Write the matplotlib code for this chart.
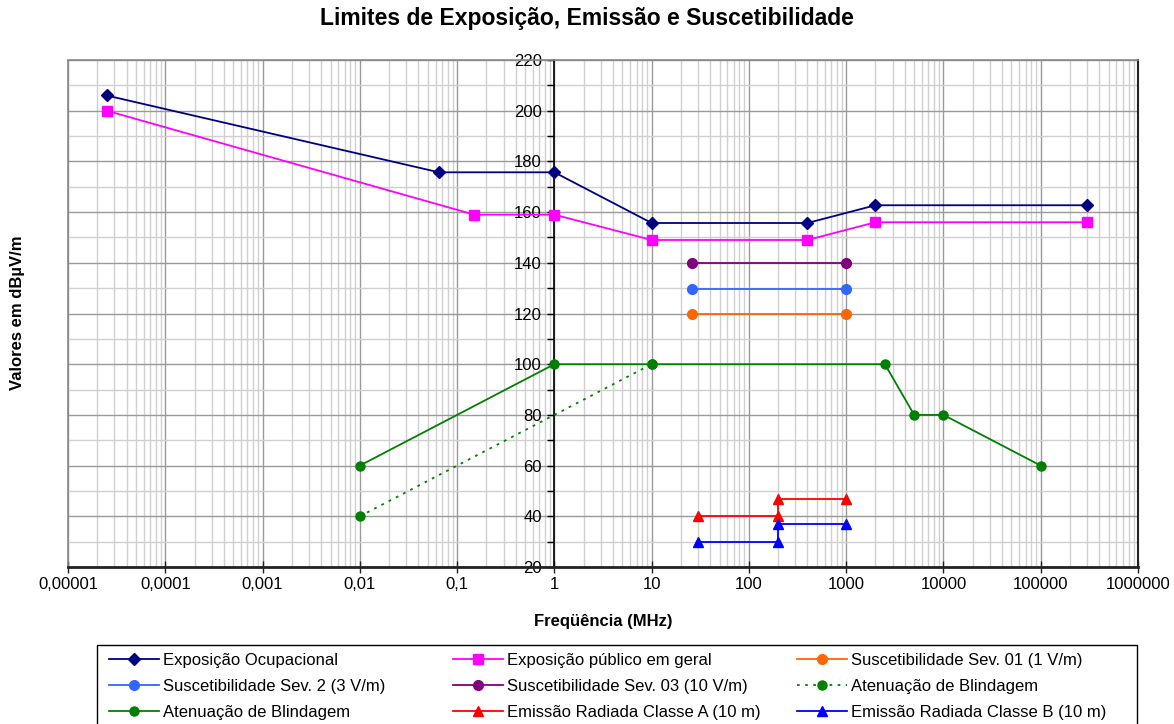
import matplotlib
matplotlib.use("Agg")
import matplotlib.pyplot as plt
from matplotlib.ticker import FixedLocator, FixedFormatter, LogLocator, MultipleLocator, NullFormatter
from matplotlib.patches import Rectangle

plt.rcParams['font.family'] = ['Liberation Sans', 'DejaVu Sans']

# ---- data ----
ocup_x = [2.5e-5, 0.065, 1, 10, 400, 2000, 300000]
ocup_y = [206, 175.7, 175.7, 155.7, 155.7, 162.7, 162.7]

pub_x = [2.5e-5, 0.15, 1, 10, 400, 2000, 300000]
pub_y = [200, 159, 159, 149, 149, 156, 156]

sev_x = [26, 1000]
sev01_y = [120, 120]
sev2_y = [129.5, 129.5]
sev03_y = [140, 140]

aten_dot_x = [0.01, 10]
aten_dot_y = [40, 100]

aten_x = [0.01, 1, 10, 2500, 5000, 10000, 100000]
aten_y = [60, 100, 100, 100, 80, 80, 60]

emA_x = [30, 200, 200, 1000]
emA_y = [40, 40, 47, 47]
emB_x = [30, 200, 200, 1000]
emB_y = [30, 30, 37, 37]

xtick_vals = [1e-5, 1e-4, 1e-3, 1e-2, 1e-1, 1, 10, 100, 1000, 10000, 100000, 1000000]
xtick_labels = ['0,00001', '0,0001', '0,001', '0,01', '0,1', '1', '10', '100',
                '1000', '10000', '100000', '1000000']
ytick_vals = list(range(20, 221, 20))

title = 'Limites de Exposição, Emissão e Suscetibilidade'
xlabel = 'Freqüência (MHz)'
ylabel = 'Valores em dBµV/m'

# ---- figure ----
W, H = 1174, 724
fig = plt.figure(figsize=(W/100, H/100), dpi=100)
ax = fig.add_axes([68/W, 1-567/H, (1138-68)/W, (567-60)/H])

ax.set_xscale('log')
ax.set_xlim(1e-5, 1e6)
ax.set_ylim(20, 220)

lw = 1.3
h_ocup, = ax.plot(ocup_x, ocup_y, color='#000080', marker='D', ms=6, lw=lw, label='Exposição Ocupacional', zorder=5)
h_pub, = ax.plot(pub_x, pub_y, color='#FF00FF', marker='s', ms=7.5, lw=lw, label='Exposição público em geral', zorder=5)
h_s01, = ax.plot(sev_x, sev01_y, color='#FF6600', marker='o', ms=7, lw=lw, label='Suscetibilidade Sev. 01 (1 V/m)', zorder=5)
h_s2, = ax.plot(sev_x, sev2_y, color='#3366FF', marker='o', ms=7, lw=lw, label='Suscetibilidade Sev. 2 (3 V/m)', zorder=5)
h_s03, = ax.plot(sev_x, sev03_y, color='#800080', marker='o', ms=7, lw=lw, label='Suscetibilidade Sev. 03 (10 V/m)', zorder=5)
h_adot, = ax.plot(aten_dot_x, aten_dot_y, color='#008000', marker='o', ms=6.5, lw=lw,
                  linestyle=(0, (1.5, 3)), label='Atenuação de Blindagem', zorder=5)
h_a, = ax.plot(aten_x, aten_y, color='#008000', marker='o', ms=6.5, lw=lw, label='Atenuação de Blindagem', zorder=5)
h_eA, = ax.plot(emA_x, emA_y, color='#FF0000', marker='^', ms=7.5, lw=lw, label='Emissão Radiada Classe A (10 m)', zorder=5)
h_eB, = ax.plot(emB_x, emB_y, color='#0000FF', marker='^', ms=7.5, lw=lw, label='Emissão Radiada Classe B (10 m)', zorder=5)

# grid
ax.xaxis.set_major_locator(FixedLocator(xtick_vals))
ax.xaxis.set_major_formatter(FixedFormatter(xtick_labels))
ax.xaxis.set_minor_locator(LogLocator(base=10, subs=range(2, 10), numticks=50))
ax.xaxis.set_minor_formatter(NullFormatter())
ax.yaxis.set_major_locator(FixedLocator(ytick_vals))
ax.yaxis.set_minor_locator(MultipleLocator(10))
ax.grid(which='major', color='#999999', lw=1.0, zorder=0)
ax.grid(which='minor', color='#D0D0D0', lw=1.0, zorder=0)
ax.set_axisbelow(True)

# spines
ax.spines['left'].set_position(('data', 1))
ax.spines['left'].set_color('black')
ax.spines['left'].set_linewidth(1.2)
ax.spines['bottom'].set_color('#222222')
ax.spines['bottom'].set_linewidth(2)
ax.spines['right'].set_color('#222222')
ax.spines['right'].set_linewidth(1.5)
ax.spines['top'].set_color('#888888')
ax.spines['top'].set_linewidth(1.2)
ax.add_patch(Rectangle((0, 0), 0, 1, transform=ax.transAxes, fill=False,
                       edgecolor='#888888', lw=1.2, clip_on=False, zorder=1))

ax.tick_params(axis='x', which='major', direction='inout', length=8, width=1, labelsize=12, pad=3,
               colors='#222222', labelcolor='black')
ax.tick_params(axis='x', which='minor', length=0)
ax.tick_params(axis='y', which='major', direction='out', length=5, width=1, labelsize=12, pad=4)
ax.tick_params(axis='y', which='minor', direction='out', length=5, width=1)

ax.set_xlabel(xlabel, fontsize=12, fontweight='bold', labelpad=16)
fig.text(18/W, 1-313/H, ylabel, rotation=90, fontsize=12, fontweight='bold', ha='center', va='center')
fig.text(587/W, 1-19/H, title, fontsize=16.5, fontweight='bold', ha='center', va='center')

# legend: frame (its bottom edge falls below the image) + three equal-width columns
fig.add_artist(Rectangle((97/W, 1-735/H), (1137-97)/W, (735-645)/H, transform=fig.transFigure,
                         fill=False, edgecolor='black', lw=1.0))
columns = [[h_ocup, h_s2, h_a], [h_pub, h_s03, h_eA], [h_s01, h_adot, h_eB]]
col_x = [109, 453, 797]
for cx, hs in zip(col_x, columns):
    fig.legend(handles=hs, labels=[h.get_label() for h in hs], ncol=1,
               loc='upper left', bbox_to_anchor=(cx/W, 1-653/H),
               fontsize=12, frameon=False, handlelength=3, handletextpad=0.25,
               borderaxespad=0, labelspacing=0.65, borderpad=0)

fig.savefig('out.png', dpi=100)
